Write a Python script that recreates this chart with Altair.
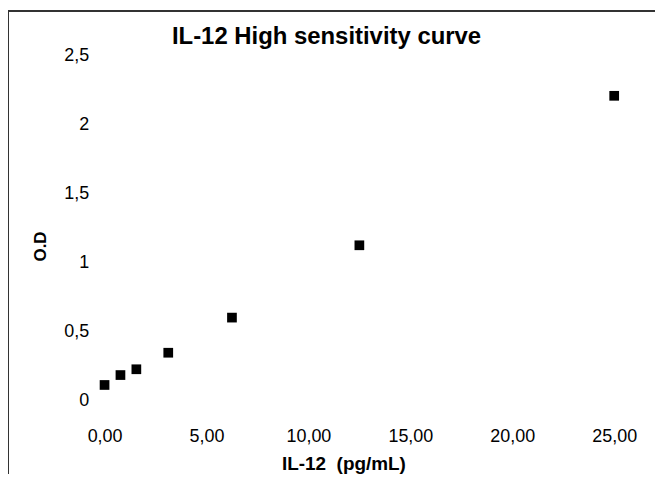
import altair as alt
import pandas as pd

conc = [0, 0.78, 1.56, 3.125, 6.25, 12.5, 25]
od = [0.111, 0.183, 0.225, 0.345, 0.60, 1.125, 2.21]
x_ticks = [0, 5, 10, 15, 20, 25]
y_ticks = [0, 0.5, 1, 1.5, 2, 2.5]
title_text = ["IL-12 High sensitivity curve"]

df = pd.DataFrame({"conc": conc, "od": od})
FONT = "Liberation Sans"

points = alt.Chart(df).mark_square(size=95, color="black", opacity=1).encode(
    x=alt.X("conc:Q",
            scale=alt.Scale(domain=[0, 25], nice=False, zero=False),
            axis=alt.Axis(values=x_ticks, title="IL-12\u00a0 (pg/mL)",
                          labelExpr="replace(format(datum.value, '.2f'), '.', ',')",
                          domain=False, ticks=False, grid=False, labelFlush=False,
                          labelPadding=27, labelFontSize=18, labelFont=FONT,
                          labelColor="black", titleFont=FONT, titleFontSize=19,
                          titleFontWeight="bold", titleColor="black",
                          titleX=240, titleY=64, titleBaseline="middle")),
    y=alt.Y("od:Q",
            scale=alt.Scale(domain=[0, 2.5], nice=False, zero=False),
            axis=alt.Axis(values=y_ticks, title="O.D",
                          labelExpr="replace(toString(datum.value), '.', ',')",
                          domain=False, ticks=False, grid=False, labelFlush=False,
                          labelPadding=16, labelFontSize=18, labelFont=FONT,
                          labelColor="black", titleFont=FONT, titleFontSize=17,
                          titleFontWeight="bold", titleColor="black",
                          titleX=-55, titleY=191)),
)

frame = alt.Chart(pd.DataFrame({"a": [0]})).mark_rect(
    fill=None, stroke="#333333", strokeWidth=2, clip=False
).encode(
    x=alt.value(-97), x2=alt.value(1200),
    y=alt.value(-45), y2=alt.value(1200),
)

title = alt.Chart(pd.DataFrame({"t": title_text})).mark_text(
    font=FONT, fontSize=24, fontWeight="bold", color="black",
    align="center", baseline="middle"
).encode(
    x=alt.value(223), y=alt.value(-19), text="t:N"
)

chart = alt.layer(frame, points, title).properties(
    width=512, height=346,
    autosize=alt.AutoSizeParams(type="none"),
    padding={"left": 97, "top": 47, "right": 41, "bottom": 73},
).configure_view(stroke=None)

chart.save("out.html", embed_options={"renderer": "svg", "actions": False})
